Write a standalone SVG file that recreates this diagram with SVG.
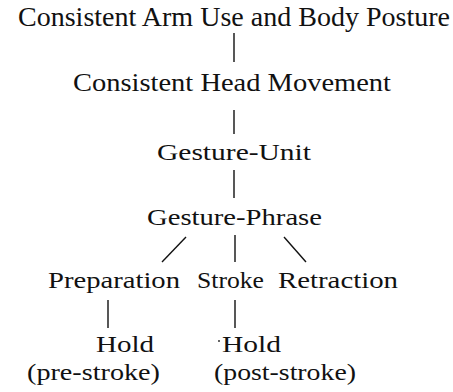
<svg xmlns="http://www.w3.org/2000/svg" width="453" height="392" viewBox="0 0 453 392">
<style>
.c line{stroke:#111;stroke-width:1.4;stroke-linecap:butt}
</style>
<rect width="453" height="392" fill="#fff"/>
<g class="c" id="connectors">
<line x1="234" y1="33" x2="234" y2="62"/>
<line x1="234" y1="110" x2="234" y2="134"/>
<line x1="234" y1="170" x2="234" y2="198"/>
<line x1="186" y1="237" x2="162" y2="262"/>
<line x1="235" y1="235" x2="235" y2="262"/>
<line x1="284" y1="237" x2="306" y2="262"/>
<line x1="108" y1="300" x2="108" y2="328"/>
<line x1="235" y1="300" x2="235" y2="328"/>
</g>
<g font-family="Liberation Serif" fill="#111" lengthAdjust="spacingAndGlyphs">
<g id="n1"><text x="18" y="26" font-size="27" textLength="432" lengthAdjust="spacingAndGlyphs">Consistent Arm Use and Body Posture</text></g>
<g id="n2"><text x="73" y="91" font-size="26" textLength="318" lengthAdjust="spacingAndGlyphs">Consistent Head Movement</text></g>
<g id="n3"><text x="157" y="160" font-size="24" textLength="154" lengthAdjust="spacingAndGlyphs">Gesture-Unit</text></g>
<g id="n4"><text x="147" y="225" font-size="24" textLength="175" lengthAdjust="spacingAndGlyphs">Gesture-Phrase</text></g>
<g id="n5"><text x="48" y="288" font-size="23" textLength="132" lengthAdjust="spacingAndGlyphs">Preparation</text></g>
<g id="n6"><text x="197" y="288" font-size="23" textLength="67" lengthAdjust="spacingAndGlyphs">Stroke</text></g>
<g id="n7"><text x="278" y="288" font-size="23" textLength="120" lengthAdjust="spacingAndGlyphs">Retraction</text></g>
<g id="n8"><text x="96" y="352" font-size="23" textLength="58" lengthAdjust="spacingAndGlyphs">Hold</text><text x="27" y="380" font-size="23" textLength="133" lengthAdjust="spacingAndGlyphs">(pre-stroke)</text></g>
<g id="n9"><text x="222" y="352" font-size="23" textLength="59" lengthAdjust="spacingAndGlyphs">Hold</text><text x="214" y="380" font-size="23" textLength="142" lengthAdjust="spacingAndGlyphs">(post-stroke)</text></g>
</g>
<circle cx="219" cy="341" r="1" fill="#333"/>
</svg>
